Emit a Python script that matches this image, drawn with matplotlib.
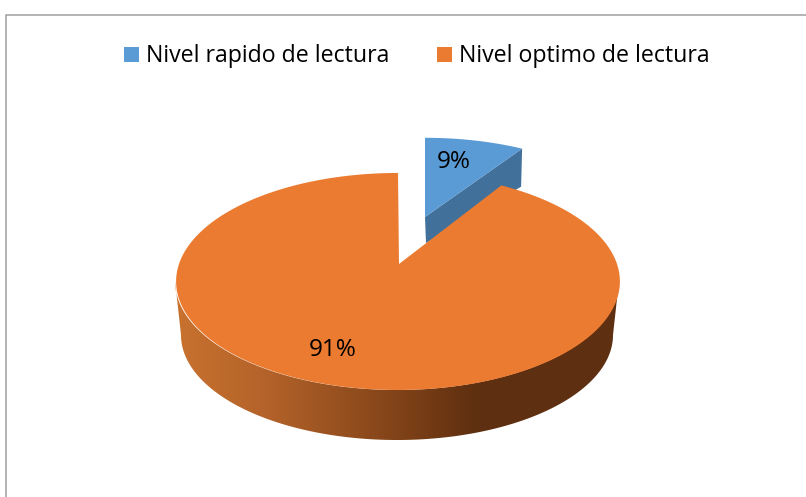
import numpy as np
import matplotlib
matplotlib.use("Agg")
import matplotlib.pyplot as plt
from matplotlib.colors import LinearSegmentedColormap
from matplotlib.patches import Polygon, Rectangle

categories = ["Nivel rapido de lectura", "Nivel optimo de lectura"]
values = [9, 91]
colors = ["#5B9BD5", "#EB7B30"]

plt.rcParams['font.family'] = ['Open Sans', 'DejaVu Sans']
fig = plt.figure(figsize=(8.06, 4.97), dpi=100)
ax = fig.add_axes([0, 0, 1, 1])
ax.set_xlim(0, 806)
ax.set_ylim(497, 0)
ax.axis("off")

# chart frame (only left and top edges are visible in the crop)
ax.plot([5.5, 5.5, 806], [497, 14.5, 14.5], color="#A6A6A6", lw=1.2, solid_capstyle="butt")

K = 0.161
def project(theta, x0, y0, sx=1.0, sy=1.0):
    """Pie angle (clockwise from 12 o'clock) to screen, with perspective."""
    x, y = np.sin(theta), np.cos(theta)
    d = 1 + K * y
    return x0 + sx * 219 * x / d, y0 - sy * 105.7 * y / d

total = sum(values)
split = 2 * np.pi * values[0] / total

# orange side wall with gradient
t = np.linspace(-np.pi, 0, 200)
bx = 397 + 216 * np.cos(t)
by = 335 - 105 * np.sin(t)
ext = np.arccos(-K)
tt = np.linspace(2 * np.pi - ext, ext, 200)
tx, ty = project(tt, 397, 264)
wall = np.vstack([np.column_stack([bx, by]), np.column_stack([tx[::-1], ty[::-1]])])
cmap = LinearSegmentedColormap.from_list("wall", [
    (0.0, "#C9722F"), (0.2, "#B4632A"), (0.48, "#854519"),
    (0.68, "#5E2F10"), (1.0, "#5E2F10")])
im = ax.imshow(np.linspace(0, 1, 256)[None, :], extent=(175, 619, 445, 270),
               cmap=cmap, aspect="auto", zorder=1)
clip = Polygon(wall, closed=True, transform=ax.transData, fc="none", ec="none")
ax.add_patch(clip)
im.set_clip_path(clip)
ax.set_xlim(0, 806)
ax.set_ylim(497, 0)

# exploded blue slice
a = np.linspace(0, split, 40)
ux, uy = project(a, 425, 217, 0.94, 0.87)
blue_top = np.column_stack([np.r_[425, ux], np.r_[217, uy]])
side = np.array([[425, 217], [ux[-1], uy[-1]], [ux[-1] - 1, uy[-1] + 38], [426, 243]])
ax.add_patch(Polygon(side, closed=True, fc="#41709A", ec="none", zorder=2))
ax.add_patch(Polygon(blue_top, closed=True, fc=colors[0], ec="none", zorder=3))

# orange top face
a = np.linspace(split, 2 * np.pi, 500)
ox, oy = project(a, 398, 264)
orange_top = np.column_stack([np.r_[399, ox], np.r_[264, oy]])
ax.add_patch(Polygon(orange_top, closed=True, fc=colors[1], ec="none", zorder=4))

# percentage labels
ax.text(453.5, 162, f"{values[0]}%", ha="center", va="center", fontsize=17.5, color="#000000", zorder=6)
ax.text(333, 350, f"{values[1]}%", ha="center", va="center", fontsize=17.5, color="#000000", zorder=6)

# legend
for sq_x, txt_x, c, name in zip([124, 437], [146, 459], colors, categories):
    ax.add_patch(Rectangle((sq_x, 47), 15, 15, fc=c, ec="none", zorder=6))
    ax.text(txt_x, 55.5, name, ha="left", va="center", fontsize=16.7, color="#000000", zorder=6)

fig.savefig("out.png", dpi=100)
